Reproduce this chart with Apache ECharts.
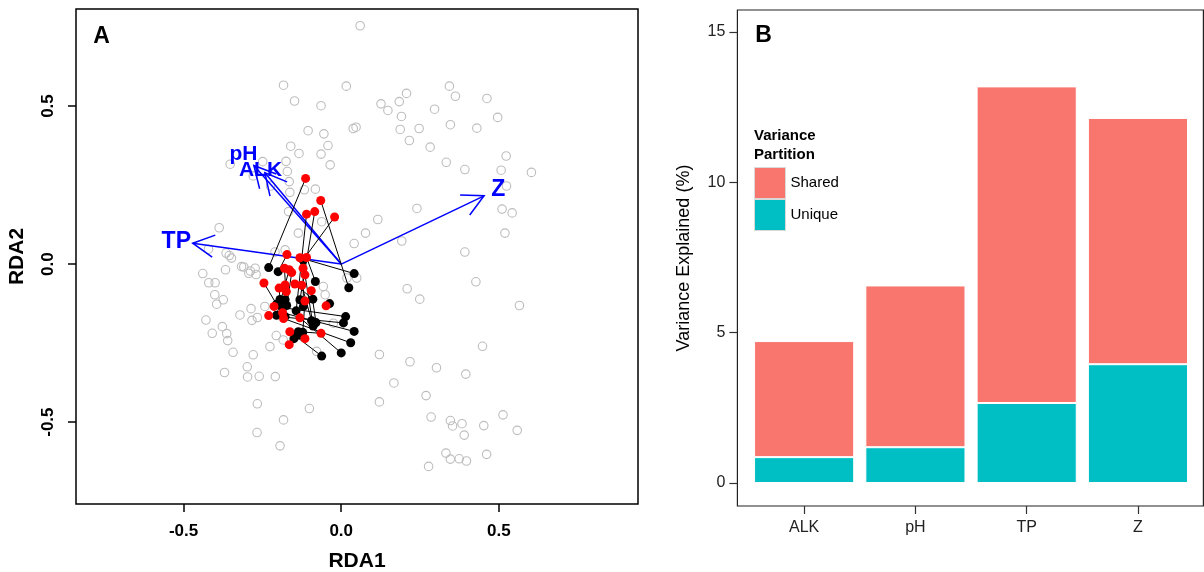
<!DOCTYPE html>
<html>
<head>
<meta charset="utf-8">
<title>RDA and variance partition</title>
<script src="https://cdn.jsdelivr.net/npm/echarts@6.0.0/dist/echarts.min.js"></script>
<style>
  html, body { margin: 0; padding: 0; background: #fff; }
  #chart { width: 1204px; height: 572px; }
</style>
</head>
<body>
<div id="chart"></div>
<script>
// ---- panel A: site scores (grey), paired samples (red -> black), biplot arrows ----
var greySites = [
  [0.060,0.754],[-0.183,0.566],[-0.148,0.516],[0.016,0.563],[0.343,0.563],[0.362,0.531],[0.207,0.540],[0.184,0.514],[0.126,0.507],[0.148,0.486],
  [-0.064,0.501],[0.296,0.490],[0.191,0.467],[0.346,0.441],[0.247,0.429],[0.187,0.426],[0.038,0.429],[0.047,0.433],[-0.105,0.422],[-0.055,0.412],
  [-0.042,0.375],[0.216,0.391],[0.282,0.370],[-0.064,0.348],[-0.134,0.350],[-0.160,0.373],[-0.035,0.314],[0.333,0.322],[0.430,0.430],[0.462,0.524],
  [0.496,0.464],[0.523,0.342],[0.392,0.299],[0.507,0.297],[0.603,0.290],[0.524,0.247],[0.510,0.174],[0.542,0.162],[0.519,0.098],[0.240,0.176],
  [0.116,0.141],[0.077,0.098],[0.041,0.065],[0.192,0.073],[0.392,0.038],[0.427,-0.056],[-0.082,0.237],[-0.062,0.134],[-0.352,0.316],[-0.249,0.324],
  [-0.175,0.325],[-0.171,0.293],[-0.165,0.261],[-0.279,0.279],[-0.117,0.235],[-0.163,0.227],[-0.224,0.247],[-0.167,0.166],[-0.136,0.098],[-0.210,0.038],
  [-0.178,0.045],[-0.387,0.115],[-0.421,0.047],[-0.365,0.035],[-0.355,0.027],[-0.348,0.019],[-0.367,-0.018],[-0.439,-0.030],[-0.420,-0.059],[-0.400,-0.059],
  [-0.316,-0.008],[-0.309,-0.009],[-0.293,-0.029],[-0.288,-0.022],[-0.273,-0.013],[-0.270,-0.033],[-0.401,-0.097],[-0.374,-0.113],[-0.395,-0.127],[-0.286,-0.141],
  [-0.321,-0.161],[-0.283,-0.178],[-0.266,-0.169],[-0.429,-0.177],[-0.377,-0.198],[-0.363,-0.220],[-0.409,-0.219],[-0.360,-0.242],[-0.343,-0.279],[-0.279,-0.287],
  [-0.298,-0.325],[-0.297,-0.357],[-0.370,-0.343],[-0.260,-0.355],[-0.209,-0.356],[-0.266,-0.442],[-0.101,-0.457],[-0.183,-0.493],[-0.267,-0.533],[-0.194,-0.575],
  [-0.226,-0.261],[-0.206,-0.226],[-0.184,-0.240],[-0.078,-0.276],[-0.242,-0.134],[-0.025,-0.187],[-0.057,-0.071],[-0.051,-0.097],[0.018,-0.044],[0.049,-0.044],
  [0.209,-0.078],[0.249,-0.111],[0.565,-0.131],[0.448,-0.260],[0.121,-0.286],[0.218,-0.309],[0.302,-0.328],[0.395,-0.348],[0.167,-0.376],[0.121,-0.436],
  [0.269,-0.416],[0.285,-0.484],[0.346,-0.495],[0.353,-0.512],[0.383,-0.505],[0.390,-0.541],[0.452,-0.511],[0.513,-0.477],[0.558,-0.526],[0.332,-0.598],
  [0.346,-0.617],[0.374,-0.616],[0.397,-0.623],[0.461,-0.602],[0.277,-0.640]
];
// red[i] is joined to black[i]
var redSites = [
  [-0.113,0.271],[-0.065,0.201],[-0.110,0.158],[-0.084,0.166],[-0.021,0.149],[-0.172,0.030],[-0.131,0.020],[-0.110,0.021],
  [-0.180,-0.013],[-0.165,-0.018],[-0.157,-0.027],[-0.121,-0.013],[-0.115,-0.034],[-0.245,-0.060],[-0.197,-0.076],[-0.178,-0.066],
  [-0.174,-0.087],[-0.147,-0.063],[-0.125,-0.067],[-0.095,-0.084],[-0.115,-0.117],[-0.213,-0.134],[-0.048,-0.132],[-0.230,-0.163],
  [-0.186,-0.154],[-0.183,-0.172],[-0.131,-0.170],[-0.163,-0.214],[-0.064,-0.219],[-0.115,-0.236],[-0.165,-0.255]
];
var blackSites = [
  [-0.230,-0.011],[0.024,-0.075],[-0.143,-0.148],[-0.131,-0.113],[-0.121,0.013],[-0.200,-0.024],[0.041,-0.030],[-0.082,-0.055],
  [-0.173,-0.131],[-0.205,-0.162],[-0.178,-0.166],[-0.120,-0.134],[-0.089,-0.196],[-0.205,-0.127],[-0.194,-0.112],[-0.178,-0.113],
  [-0.189,-0.134],[-0.090,-0.111],[-0.094,-0.179],[-0.080,-0.185],[-0.122,-0.216],[0.014,-0.166],[-0.037,-0.125],[0.007,-0.186],
  [0.041,-0.213],[0.030,-0.249],[0.000,-0.281],[-0.062,-0.291],[-0.136,-0.214],[-0.150,-0.236],[-0.140,-0.225]
];
var envNames = ['TP', 'pH', 'ALK', 'Z'];
var envX = [-0.471, -0.277, -0.242, 0.453];
var envY = [0.066, 0.312, 0.289, 0.216];
var envLabelX = [-0.523, -0.310, -0.256, 0.498];
var envLabelY = [0.071, 0.349, 0.297, 0.236];
var envLabelSize = [23, 21, 21, 23];
var rdaTicks = [-0.5, 0, 0.5];

// ---- panel B: variance partition ----
var predictors = ['ALK', 'pH', 'TP', 'Z'];
var uniqueVar = [0.86, 1.19, 2.66, 3.95];
var sharedVar = [3.86, 5.38, 10.53, 8.19];
var varTicks = [0, 5, 10, 15];

var FONT = '"Liberation Sans", Arial, Helvetica, sans-serif';
var chart = echarts.init(document.getElementById('chart'));

var segData = redSites.map(function (r, i) {
  return { coords: [r, blackSites[i]] };
});
var arrowData = envNames.map(function (n, i) {
  return [envX[i], envY[i], envLabelX[i], envLabelY[i]];
});

function renderArrow(params, api) {
  var o = api.coord([0, 0]);
  var t = api.coord([api.value(0), api.value(1)]);
  var lp = api.coord([api.value(2), api.value(3)]);
  var ang = Math.atan2(t[1] - o[1], t[0] - o[0]);
  var L = 24, a = Math.PI / 6.5;
  var b1 = [t[0] - L * Math.cos(ang - a), t[1] - L * Math.sin(ang - a)];
  var b2 = [t[0] - L * Math.cos(ang + a), t[1] - L * Math.sin(ang + a)];
  var st = { stroke: '#0000ff', lineWidth: 1.5, fill: null };
  return {
    type: 'group',
    children: [
      { type: 'line', shape: { x1: o[0], y1: o[1], x2: t[0], y2: t[1] }, style: st },
      { type: 'polyline', shape: { points: [b1, t, b2] }, style: st },
      { type: 'text', x: lp[0], y: lp[1], style: {
          text: envNames[params.dataIndex], fill: '#0000ff',
          fontSize: envLabelSize[params.dataIndex], fontWeight: 'bold', fontFamily: FONT,
          align: 'center', verticalAlign: 'middle' } }
    ]
  };
}

var option = {
  animation: false,
  backgroundColor: '#fff',
  textStyle: { fontFamily: FONT },
  graphic: [
    // panel B frame (ggplot panel, expanded 0.6 of a bar slot on each side)
    { type: 'rect', shape: { x: 737.4, y: 10, width: 466, height: 496 }, style: { fill: null, stroke: '#222', lineWidth: 1.2 }, z: 0 },
    { type: 'text', x: 101.5, y: 36.5, style: { text: 'A', fontSize: 23, fontWeight: 'bold', fontFamily: FONT, fill: '#000', align: 'center', verticalAlign: 'middle' } },
    { type: 'text', x: 763.5, y: 36, style: { text: 'B', fontSize: 23, fontWeight: 'bold', fontFamily: FONT, fill: '#000', align: 'center', verticalAlign: 'middle' } },
    { type: 'text', x: 754, y: 135.5, style: { text: 'Variance', fontSize: 15, fontWeight: 'bold', fontFamily: FONT, fill: '#000', align: 'left', verticalAlign: 'middle' } },
    { type: 'text', x: 754, y: 154.5, style: { text: 'Partition', fontSize: 15, fontWeight: 'bold', fontFamily: FONT, fill: '#000', align: 'left', verticalAlign: 'middle' } }
  ],
  legend: {
    data: ['Shared', 'Unique'],
    orient: 'vertical',
    left: 754, top: 167,
    padding: 0,
    itemWidth: 31, itemHeight: 31, itemGap: 0,
    icon: 'rect',
    itemStyle: { borderColor: '#d9d9d9', borderWidth: 1 },
    textStyle: { fontSize: 15, color: '#000', fontFamily: FONT }
  },
  grid: [
    { left: 76, top: 9, right: 566, bottom: 68, outerBoundsMode: 'none', containLabel: false,
      show: true, borderColor: '#000', borderWidth: 1.5, backgroundColor: '#fff' },
    { left: 748.5, top: 10, right: 10.4, bottom: 66, outerBoundsMode: 'none', containLabel: false, show: false }
  ],
  xAxis: [
    {
      gridIndex: 0, type: 'value', min: -0.841, max: 0.941,
      name: 'RDA1', nameLocation: 'middle', nameGap: 47,
      nameTextStyle: { fontSize: 21, fontWeight: 'bold', color: '#000', fontFamily: FONT },
      axisLine: { show: false, onZero: false },
      splitLine: { show: false },
      axisTick: { show: true, inside: false, length: 8, customValues: rdaTicks, lineStyle: { color: '#000', width: 1.5 } },
      axisLabel: { customValues: rdaTicks, margin: 19, fontSize: 17, fontWeight: 'bold', color: '#000', fontFamily: FONT,
        formatter: function (v) { return v.toFixed(1); } }
    },
    {
      gridIndex: 1, type: 'category', data: predictors, boundaryGap: true,
      axisLine: { show: false, onZero: false },
      splitLine: { show: false },
      axisTick: { show: true, length: 8, alignWithLabel: true, lineStyle: { color: '#333', width: 1.2 } },
      axisLabel: { margin: 14, fontSize: 16, color: '#222', fontFamily: FONT }
    }
  ],
  yAxis: [
    {
      gridIndex: 0, type: 'value', min: -0.759, max: 0.807,
      name: 'RDA2', nameLocation: 'middle', nameGap: 48, nameRotate: 90,
      nameTextStyle: { fontSize: 21, fontWeight: 'bold', color: '#000', fontFamily: FONT },
      axisLine: { show: false, onZero: false },
      splitLine: { show: false },
      axisTick: { show: true, inside: false, length: 8, customValues: rdaTicks, lineStyle: { color: '#000', width: 1.5 } },
      axisLabel: { customValues: rdaTicks, rotate: 90, margin: 19, fontSize: 17, fontWeight: 'bold', color: '#000', fontFamily: FONT,
        formatter: function (v) { return v.toFixed(1); } }
    },
    {
      gridIndex: 1, type: 'value', min: -0.765, max: 15.73, offset: 11.1,
      name: 'Variance Explained (%)', nameLocation: 'middle', nameGap: 44, nameRotate: 90,
      nameTextStyle: { fontSize: 18, color: '#000', fontFamily: FONT },
      axisLine: { show: false, onZero: false },
      splitLine: { show: false },
      axisTick: { show: true, length: 8, customValues: varTicks, lineStyle: { color: '#333', width: 1.2 } },
      axisLabel: { customValues: varTicks, margin: 12, fontSize: 16, color: '#222', fontFamily: FONT }
    }
  ],
  series: [
    {
      type: 'scatter', xAxisIndex: 0, yAxisIndex: 0, z: 2,
      data: greySites, symbol: 'circle', symbolSize: 8.5,
      itemStyle: { color: 'rgba(0,0,0,0)', borderColor: '#bdbdbd', borderWidth: 1.1, opacity: 1 }
    },
    {
      type: 'custom', xAxisIndex: 0, yAxisIndex: 0, z: 3,
      data: arrowData, renderItem: renderArrow,
      encode: { x: 0, y: 1 }
    },
    {
      type: 'lines', coordinateSystem: 'cartesian2d', xAxisIndex: 0, yAxisIndex: 0, z: 4,
      data: segData, symbol: 'none',
      lineStyle: { color: '#000', width: 1, opacity: 1 }
    },
    {
      type: 'scatter', xAxisIndex: 0, yAxisIndex: 0, z: 5,
      data: blackSites, symbol: 'circle', symbolSize: 9,
      itemStyle: { color: '#000', opacity: 1 }
    },
    {
      type: 'scatter', xAxisIndex: 0, yAxisIndex: 0, z: 6,
      data: redSites, symbol: 'circle', symbolSize: 9,
      itemStyle: { color: '#ff0000', opacity: 1 }
    },
    {
      name: 'Unique', type: 'bar', xAxisIndex: 1, yAxisIndex: 1, stack: 'vp',
      barWidth: '90%',
      data: uniqueVar,
      itemStyle: { color: '#00BFC4', borderColor: '#fff', borderWidth: 1 }
    },
    {
      name: 'Shared', type: 'bar', xAxisIndex: 1, yAxisIndex: 1, stack: 'vp',
      barWidth: '90%',
      data: sharedVar,
      itemStyle: { color: '#F8766D', borderColor: '#fff', borderWidth: 1 }
    }
  ]
};
chart.setOption(option);
</script>
</body>
</html>
